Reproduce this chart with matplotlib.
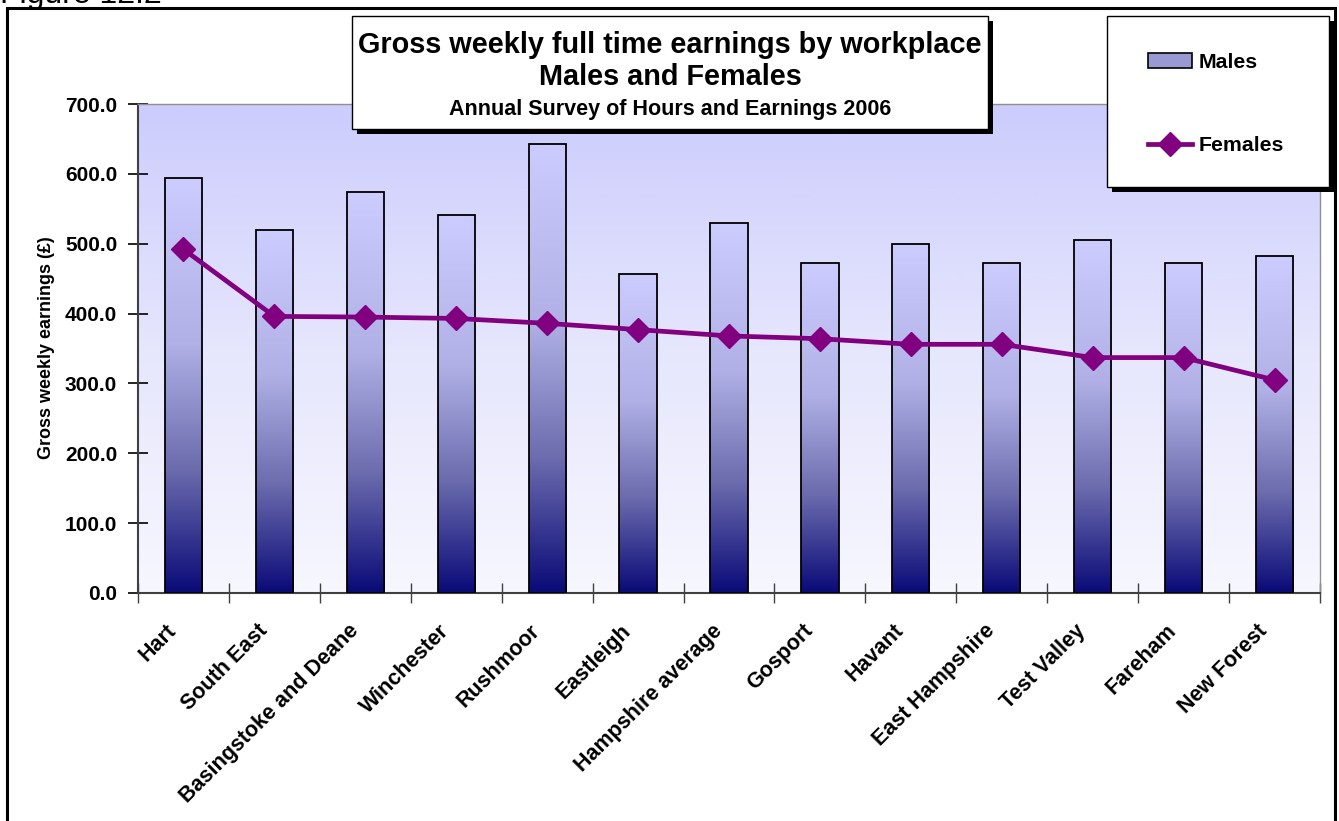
import numpy as np
import matplotlib.pyplot as plt
import matplotlib.transforms as mtransforms
from matplotlib.patches import Rectangle
from matplotlib.lines import Line2D
from matplotlib.colors import LinearSegmentedColormap

plt.rcParams['font.family'] = ['Liberation Sans', 'DejaVu Sans']

areas = ['Hart', 'South East', 'Basingstoke and Deane', 'Winchester', 'Rushmoor',
         'Eastleigh', 'Hampshire average', 'Gosport', 'Havant', 'East Hampshire',
         'Test Valley', 'Fareham', 'New Forest']
males = [594, 520, 574, 541, 643, 457, 529, 473, 500, 472, 505, 473, 482]
females = [492, 396, 395, 393, 386, 377, 368, 364, 356, 356, 337, 337, 305]
y_ticks = [0, 100, 200, 300, 400, 500, 600, 700]

W, H = 1339, 821
fig = plt.figure(figsize=(W / 100, H / 100), dpi=100)
fig.patch.set_facecolor('white')


def box(x0, y0, x1, y1):
    # pixel box (top-left origin) -> figure fraction rect
    return [x0 / W, 1 - y1 / H, (x1 - x0) / W, (y1 - y0) / H]


def fig_rect(x0, y0, x1, y1, **kw):
    r = box(x0, y0, x1, y1)
    fig.add_artist(Rectangle(r[:2], r[2], r[3], transform=fig.transFigure, **kw))


ax = fig.add_axes(box(138, 104, 1320, 593))

# plot area shading, lavender at the top fading to white
bg_cmap = LinearSegmentedColormap.from_list('bg', ['#f7f7ff', '#e6e6fd', '#ccccfd'])
grad = np.linspace(0, 1, 256).reshape(-1, 1)
ax.imshow(grad, cmap=bg_cmap, origin='lower', aspect='auto',
          extent=(-0.5, len(areas) - 0.5, 0, 700), zorder=0)

# bars filled with a navy -> lavender gradient
bar_cmap = LinearSegmentedColormap.from_list(
    'bar', [(0, '#0a0a78'), (0.3, '#6c6cae'), (0.6, '#b0b0e6'), (1, '#ccccff')])
bw = 0.41
x = np.arange(len(areas))
for xi, v in zip(x, males):
    ax.imshow(grad, cmap=bar_cmap, origin='lower', aspect='auto',
              extent=(xi - bw / 2, xi + bw / 2, 0, v), zorder=2)
ax.bar(x, males, bw, facecolor='none', edgecolor='black', linewidth=1.3, zorder=3)

ax.plot(x, females, color='#800080', linewidth=3.4, marker='D', markersize=12, zorder=4)

ax.set_xlim(-0.5, len(areas) - 0.5)
ax.set_ylim(0, 700)
ax.set_yticks(y_ticks)
ax.set_yticklabels([f'{v:.1f}' for v in y_ticks], fontsize=15, fontweight='bold')
ax.tick_params(axis='y', direction='inout', length=14, width=1.2, pad=8)
ax.set_xticks(x)
ax.set_xticklabels(areas, rotation=45, ha='right', va='center', rotation_mode='anchor',
                   fontsize=15.5, fontweight='bold')
ax.tick_params(axis='x', which='major', length=0, pad=25)
shift = mtransforms.ScaledTranslation(-10 / 100, 0, fig.dpi_scale_trans)
for lbl in ax.get_xticklabels():
    lbl.set_transform(lbl.get_transform() + shift)
ax.set_xticks(np.arange(-0.5, len(areas)), minor=True)
ax.tick_params(axis='x', which='minor', direction='inout', length=14, width=1, color='#404040')

for side in ['left', 'bottom']:
    ax.spines[side].set_color('#404040')
    ax.spines[side].set_linewidth(1.5)
for side in ['top', 'right']:
    ax.spines[side].set_color('#909090')
    ax.spines[side].set_linewidth(1)

fig.text(46.5 / W, 1 - 348 / H, 'Gross weekly earnings (£)', rotation=90,
         ha='center', va='center', fontsize=13, fontweight='bold')

# title box with drop shadow
fig_rect(357, 21, 993, 134, facecolor='black', zorder=5)
fig_rect(352, 16, 988, 129, facecolor='white', edgecolor='black', linewidth=1, zorder=6)
fig.text(670 / W, 1 - 45 / H, 'Gross weekly full time earnings by workplace',
         ha='center', va='center', fontsize=20.8, fontweight='bold', zorder=7)
fig.text(670 / W, 1 - 77 / H, 'Males and Females',
         ha='center', va='center', fontsize=20.8, fontweight='bold', zorder=7)
fig.text(670 / W, 1 - 109 / H, 'Annual Survey of Hours and Earnings 2006',
         ha='center', va='center', fontsize=15.5, fontweight='bold', zorder=7)

# legend box with drop shadow
fig_rect(1112, 21, 1334, 192, facecolor='black', zorder=5)
fig_rect(1107, 16, 1329, 187, facecolor='white', edgecolor='black', linewidth=1, zorder=6)
handles = [Rectangle((0, 0), 1, 1, facecolor='#9a9ad2', edgecolor='black', linewidth=1.2),
           Line2D([], [], color='#800080', linewidth=3.4, marker='D', markersize=12)]
leg = fig.legend(handles, ['Males', 'Females'], loc='center',
                 bbox_to_anchor=(1216 / W, 1 - 104 / H), frameon=False,
                 prop={'size': 15.3, 'weight': 'bold'}, handlelength=2.1,
                 handletextpad=0.3, labelspacing=3.05)
leg.set_zorder(7)

# outer chart frame and caption
fig.add_artist(Rectangle((7 / W, -0.05), 1328 / W, 1.05 - 8 / H, transform=fig.transFigure,
                         facecolor='none', edgecolor='black', linewidth=2.2, zorder=8))
fig.text(0, 1 - 3 / H, 'Figure 12.2', fontsize=23, va='baseline', ha='left')

fig.savefig('out.png', dpi=100)
